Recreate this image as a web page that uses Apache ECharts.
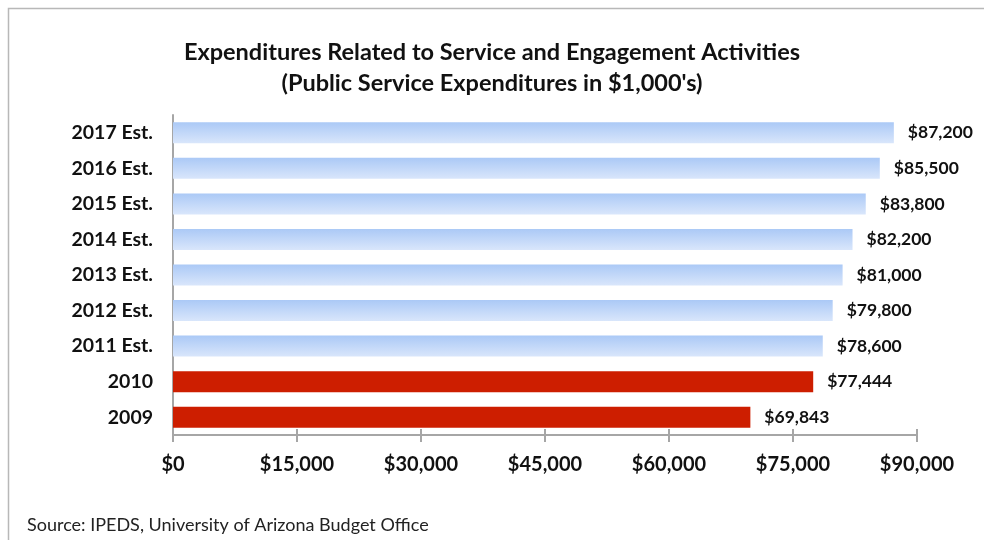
<!DOCTYPE html>
<html>
<head>
<meta charset="utf-8">
<script src="https://cdn.jsdelivr.net/npm/echarts@6/dist/echarts.min.js"></script>
<style>
  html, body { margin: 0; padding: 0; background: #ffffff; }
  #chart { width: 984px; height: 540px; }
</style>
</head>
<body>
<div id="chart"></div>
<script>
  // categories top to bottom
  var years = ['2017 Est.', '2016 Est.', '2015 Est.', '2014 Est.', '2013 Est.', '2012 Est.', '2011 Est.', '2010', '2009']
  var spending = [87200, 85500, 83800, 82200, 81000, 79800, 78600, 77444, 69843]
  var xTicks = [0, 15000, 30000, 45000, 60000, 75000, 90000]

  var font = 'Lato, "Open Sans", sans-serif'
  var money = function (v) { return '$' + Number(v).toLocaleString('en-US') }

  // estimates are light blue gradient, actuals red
  var barData = spending.map(function (v, i) {
    var est = years[i].indexOf('Est.') >= 0
    return {
      value: v,
      itemStyle: {
        color: est ? new echarts.graphic.LinearGradient(0, 0, 0, 1, [
          { offset: 0, color: '#abc9f6' },
          { offset: 1, color: '#d9e6fb' }
        ]) : '#cd1e00'
      }
    }
  })

  var chart = echarts.init(document.getElementById('chart'))
  var option = {
    animation: false,
    title: {
      text: 'Expenditures Related to Service and Engagement Activities\n(Public Service Expenditures in $1,000\'s)',
      left: 'center',
      top: 32,
      textStyle: { fontFamily: font, fontWeight: 'bold', fontSize: 23.5, lineHeight: 31, color: '#111' }
    },
    graphic: [
      {
        type: 'rect',
        shape: { x: 8.5, y: 8.5, width: 1000, height: 600 },
        style: { fill: 'none', stroke: '#b8b8b8', lineWidth: 1.5 }
      },
      {
        type: 'text',
        left: 27,
        top: 516,
        style: { text: 'Source: IPEDS, University of Arizona Budget Office', font: '18px ' + font, fill: '#222' }
      }
    ],
    grid: { left: 173, right: 67, top: 115, bottom: 105 },
    xAxis: [{
      type: 'value',
      min: xTicks[0],
      max: xTicks[xTicks.length - 1],
      interval: 15000,
      splitLine: { show: false },
      axisLine: { show: true, lineStyle: { color: '#a6a6a6', width: 2 } },
      axisTick: { show: true, length: 7, lineStyle: { color: '#a6a6a6', width: 2 } },
      axisLabel: {
        margin: 20,
        fontFamily: font, fontWeight: 'bold', fontSize: 20, color: '#111',
        formatter: money
      }
    }, {
      type: 'value',
      position: 'bottom',
      min: xTicks[0],
      max: xTicks[xTicks.length - 1],
      interval: 15000,
      splitLine: { show: false },
      axisLine: { show: false },
      axisTick: { show: true, inside: true, length: 6, lineStyle: { color: '#a6a6a6', width: 2 } },
      axisLabel: { show: false }
    }],
    yAxis: {
      type: 'category',
      data: years,
      inverse: true,
      axisLine: { show: true, lineStyle: { color: '#a6a6a6', width: 2 } },
      axisTick: { show: false },
      axisLabel: {
        margin: 20,
        fontFamily: font, fontWeight: 'bold', fontSize: 19.5, color: '#111'
      }
    },
    series: [{
      type: 'bar',
      data: barData,
      barWidth: 21,
      label: {
        show: true,
        position: 'right',
        distance: 14,
        fontFamily: font, fontWeight: 'bold', fontSize: 17.5, color: '#111',
        formatter: function (p) { return money(p.value) }
      }
    }]
  }
  chart.setOption(option)
</script>
</body>
</html>
